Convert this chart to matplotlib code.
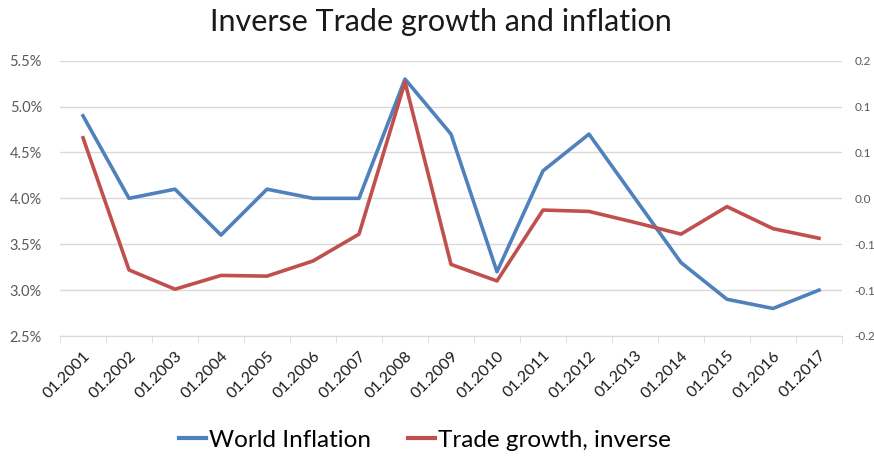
import numpy as np
import matplotlib.pyplot as plt
from matplotlib.ticker import FuncFormatter, FixedLocator
from matplotlib.lines import Line2D

plt.rcParams['font.family'] = ['Lato', 'DejaVu Sans']

# Yearly series (January readings)
periods = ["01.%d" % y for y in range(2001, 2018)]
world_inflation = [4.9, 4.0, 4.1, 3.6, 4.1, 4.0, 4.0, 5.3, 4.7, 3.2,
                   4.3, 4.7, 4.0, 3.3, 2.9, 2.8, 3.0]
trade_growth_inv = [0.088, -0.104, -0.132, -0.112, -0.113, -0.091, -0.052, 0.169,
                    -0.096, -0.120, -0.017, -0.019, -0.035, -0.052, -0.012,
                    -0.044, -0.058]

blue = "#4F81BD"
red = "#C0504D"
grey_txt = "#595959"
grid_col = "#D9D9D9"

fig = plt.figure(figsize=(8.74, 4.57), dpi=100)
ax = fig.add_axes([60 / 874, 1 - 336 / 457, 782 / 874, 275.3 / 457])
ax2 = ax.twinx()

x = np.arange(len(periods))
ax.plot(x, world_inflation, color=blue, lw=2.6, solid_joinstyle='round', zorder=3)
ax2.plot(x, trade_growth_inv, color=red, lw=2.6, solid_joinstyle='round', zorder=3)

ax.set_xlim(-0.5, len(periods) - 0.5)
ax.set_ylim(2.5, 5.5)
ax.set_yticks(np.arange(2.5, 5.51, 0.5))
ax.yaxis.set_major_formatter(FuncFormatter(lambda v, p: "%.1f%%" % v))
ax2.set_ylim(-0.2, 0.2)
ax2.set_yticks(np.linspace(-0.2, 0.2, 7))
ax2.yaxis.set_major_formatter(FuncFormatter(lambda v, p: "%.1f" % (0.0 if abs(v) < 1e-9 else v)))

ax.grid(axis='y', color=grid_col, lw=1)
ax.set_axisbelow(True)
for a in (ax, ax2):
    for s in ('top', 'left', 'right'):
        a.spines[s].set_visible(False)
    a.spines['bottom'].set_color(grid_col)
ax2.spines['bottom'].set_visible(False)

ax.tick_params(axis='y', length=0, pad=13, labelsize=10.5, labelcolor=grey_txt)
ax2.tick_params(axis='y', length=0, pad=9, labelsize=8.5, labelcolor=grey_txt)

ax.set_xticks(x)
ax.set_xticklabels(periods, rotation=45, ha='right', va='top', rotation_mode='anchor')
ax.tick_params(axis='x', which='major', length=0, pad=9, labelsize=11.5, labelcolor="#1a1a1a")
ax.xaxis.set_minor_locator(FixedLocator(np.arange(-0.5, len(periods), 1.0)))
ax.tick_params(axis='x', which='minor', length=5, color=grid_col, direction='out')

fig.text(441 / 874, 1 - 22 / 457, "Inverse Trade growth and inflation", ha='center', va='center',
         fontsize=22, color="#1a1a1a")

handles = [Line2D([], [], color=blue, lw=3), Line2D([], [], color=red, lw=3)]
fig.legend(handles, ["World Inflation", "Trade growth, inverse"], loc='center',
           bbox_to_anchor=(425 / 874, 1 - 440 / 457), ncol=2, frameon=False, fontsize=17.5,
           handlelength=1.1, handletextpad=0.15, columnspacing=1.5)

fig.savefig("out.png", dpi=100, facecolor='white')
